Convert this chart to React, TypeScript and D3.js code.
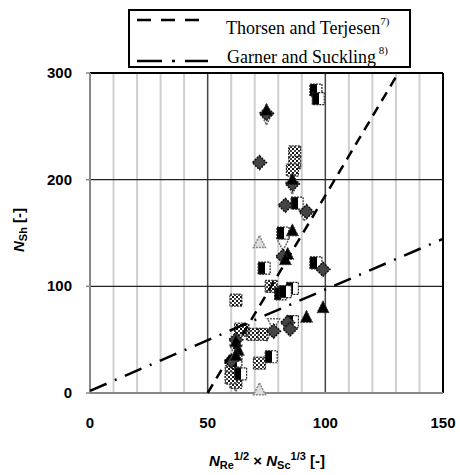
import React from "react";
import * as d3 from "d3";

const xTicks = [0, 50, 100, 150];
const yTicks = [0, 100, 200, 300];
const minorX = [10, 20, 30, 40, 60, 70, 80, 90, 110, 120, 130, 140];

// series of measured points [x, y]
const blackTriangles: [number, number][] = [
  [75, 265], [86, 200], [84, 130], [83, 125], [92, 71], [99, 80], [62, 48], [63, 40], [62, 35], [86, 152],
];
const grayDiamonds: [number, number][] = [
  [72, 216], [75, 262], [83, 176], [92, 170], [86, 196], [82, 128], [62, 50], [99, 116], [84, 66], [85, 60], [60, 30], [78, 58],
];
const checkerSquares: [number, number][] = [
  [87, 226], [87, 216], [86, 209], [62, 87], [73, 55], [69, 55], [65, 59], [64, 60], [77, 100], [60, 20], [72, 28], [62, 10], [60, 14],
];
const halfSquares: [number, number][] = [
  [96, 284], [97, 276], [88, 178], [74, 117], [86, 98], [96, 122], [82, 150], [81, 93], [77, 34], [62, 30], [64, 18], [86, 67], [83, 95],
];
const invTriangles: [number, number][] = [
  [75, 258], [86, 193], [78, 65], [82, 140], [62, 40], [75, 55], [62, 8], [91, 168],
];
const openTriangles: [number, number][] = [
  [72, 141], [72, 3], [62, 25],
];

// correlation lines
const thorsenLine: [number, number][] = [[50, 0], [131, 300]];
const garnerLine: [number, number][] = [[0, 2], [150, 144.5]];

export default function App() {
  const W = 460, H = 475;
  const x = d3.scaleLinear().domain([0, 150]).range([90, 443]);
  const y = d3.scaleLinear().domain([0, 300]).range([393, 73]);
  const line = d3.line<[number, number]>().x(d => x(d[0])).y(d => y(d[1]));
  const s = 6;
  const tri = (cx: number, cy: number) => `M${cx},${cy - s - 1}L${cx + s},${cy + s - 1}L${cx - s},${cy + s - 1}Z`;
  const itri = (cx: number, cy: number) => `M${cx},${cy + s + 1}L${cx + s},${cy - s + 1}L${cx - s},${cy - s + 1}Z`;
  const dia = (cx: number, cy: number) => `M${cx},${cy - s - 1}L${cx + s + 1},${cy}L${cx},${cy + s + 1}L${cx - s - 1},${cy}Z`;
  const bold = { fontFamily: "Liberation Sans, Arial, sans-serif", fontWeight: 700 as const };
  return (
    <svg width={W} height={H} style={{ position: "absolute", left: 0, top: 0 }}>
      <defs>
        <pattern id="chk" width="4" height="4" patternUnits="userSpaceOnUse">
          <rect width="4" height="4" fill="#fff" />
          <rect width="2" height="2" fill="#111" />
          <rect x="2" y="2" width="2" height="2" fill="#444" />
        </pattern>
        <linearGradient id="half" x1="0" x2="1" y1="0" y2="0">
          <stop offset="0.55" stopColor="#000" />
          <stop offset="0.55" stopColor="#fff" />
        </linearGradient>
      </defs>
      <rect width={W} height={H} fill="#fff" />
      {/* minor gridlines */}
      {minorX.map(v => (
        <line key={"m" + v} x1={x(v)} x2={x(v)} y1={y(300)} y2={y(0)} stroke="#cfcfcf" strokeWidth={2} />
      ))}
      {[50, 100].map(v => (
        <line key={"M" + v} x1={x(v)} x2={x(v)} y1={y(300)} y2={y(0)} stroke="#444" strokeWidth={1.5} />
      ))}
      {[100, 200].map(v => (
        <line key={"h" + v} x1={x(0)} x2={x(150)} y1={y(v)} y2={y(v)} stroke="#222" strokeWidth={1.2} />
      ))}
      {/* frame */}
      <line x1={x(0)} x2={x(150)} y1={y(300)} y2={y(300)} stroke="#000" strokeWidth={2} />
      <line x1={x(150)} x2={x(150)} y1={y(300)} y2={y(0)} stroke="#000" strokeWidth={2} />
      <line x1={x(0)} x2={x(0)} y1={y(300)} y2={y(0)} stroke="#888" strokeWidth={2} />
      <line x1={x(0)} x2={x(150)} y1={y(0)} y2={y(0)} stroke="#888" strokeWidth={2} />
      {yTicks.map(v => (
        <line key={"yt" + v} x1={x(0) - 4} x2={x(0)} y1={y(v)} y2={y(v)} stroke="#888" strokeWidth={1.5} />
      ))}
      {/* markers */}
      {openTriangles.map((d, i) => (
        <path key={"ot" + i} d={tri(x(d[0]), y(d[1]))} fill="#ddd" stroke="#888" strokeWidth={1.5} strokeDasharray="2,1" />
      ))}
      {invTriangles.map((d, i) => (
        <path key={"it" + i} d={itri(x(d[0]), y(d[1]))} fill="#fff" stroke="#666" strokeWidth={1.5} strokeDasharray="2,1" />
      ))}
      {checkerSquares.map((d, i) => (
        <rect key={"cs" + i} x={x(d[0]) - 6} y={y(d[1]) - 6} width={12} height={12} fill="url(#chk)" stroke="#333" strokeWidth={1.2} strokeDasharray="2,1" />
      ))}
      {halfSquares.map((d, i) => (
        <rect key={"hs" + i} x={x(d[0]) - 6} y={y(d[1]) - 6} width={12} height={12} fill="url(#half)" stroke="#222" strokeWidth={1.2} strokeDasharray="2,1" />
      ))}
      {grayDiamonds.map((d, i) => (
        <path key={"gd" + i} d={dia(x(d[0]), y(d[1]))} fill="#444" stroke="#111" strokeWidth={1.5} strokeDasharray="2,1" />
      ))}
      {blackTriangles.map((d, i) => (
        <path key={"bt" + i} d={tri(x(d[0]), y(d[1]))} fill="#000" stroke="#333" strokeWidth={1} strokeDasharray="2,1" />
      ))}
      {/* correlation lines */}
      <path d={line(thorsenLine) || ""} fill="none" stroke="#000" strokeWidth={2.5} strokeDasharray="10,7" />
      <path d={line(garnerLine) || ""} fill="none" stroke="#000" strokeWidth={2.5} strokeDasharray="18,9,2,9" />
      {/* tick labels */}
      {yTicks.map(v => (
        <text key={"yl" + v} x={72} y={y(v) + 5} textAnchor="end" fontSize={15} {...bold}>{v}</text>
      ))}
      {xTicks.map(v => (
        <text key={"xl" + v} x={x(v)} y={428} textAnchor="middle" fontSize={15} {...bold}>{v}</text>
      ))}
      {/* axis titles */}
      <text x={267} y={466} textAnchor="middle" fontSize={15} {...bold}>
        <tspan fontStyle="italic">N</tspan>
        <tspan fontSize={11} dy={3}>Re</tspan>
        <tspan fontSize={11} dy={-9}>1/2</tspan>
        <tspan dy={6}> × </tspan>
        <tspan fontStyle="italic">N</tspan>
        <tspan fontSize={11} dy={3}>Sc</tspan>
        <tspan fontSize={11} dy={-9}>1/3</tspan>
        <tspan dy={6}> [-]</tspan>
      </text>
      <text transform="translate(24,230) rotate(-90)" textAnchor="middle" fontSize={15} {...bold}>
        <tspan fontStyle="italic">N</tspan>
        <tspan fontSize={11} dy={3}>Sh</tspan>
        <tspan dy={-3}> [-]</tspan>
      </text>
      {/* legend */}
      <rect x={129} y={10} width={281} height={57} fill="#fff" stroke="#000" strokeWidth={2} />
      <line x1={137} x2={208} y1={20} y2={20} stroke="#000" strokeWidth={2.5} strokeDasharray="14,10" />
      <line x1={137} x2={208} y1={61} y2={61} stroke="#000" strokeWidth={2.5} strokeDasharray="25,10,3,10" />
      <text x={226} y={34} fontSize={18} fontFamily="Liberation Serif, Times New Roman, serif">
        Thorsen and Terjesen<tspan fontSize={11} dy={-9}>7)</tspan>
      </text>
      <text x={227} y={63} fontSize={18} fontFamily="Liberation Serif, Times New Roman, serif">
        Garner and Suckling<tspan fontSize={11} dy={-9}> 8)</tspan>
      </text>
    </svg>
  );
}
